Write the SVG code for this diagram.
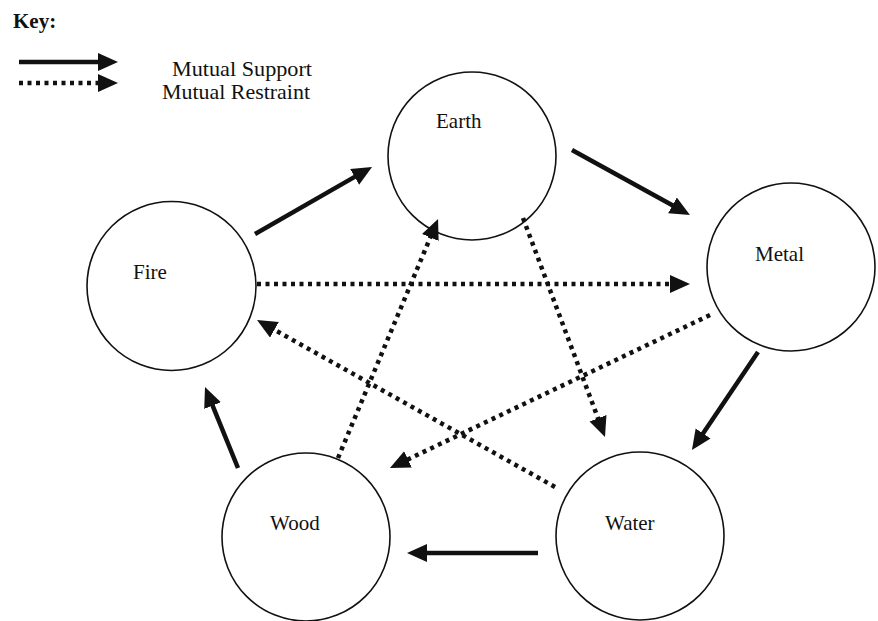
<svg xmlns="http://www.w3.org/2000/svg" width="878" height="621" viewBox="0 0 878 621">
<defs>
<style>
.node{fill:#fff;stroke:#111;stroke-width:1.6}
.lbl{font-family:"Liberation Serif","Times New Roman",serif;font-size:21px;fill:#111}
.sup{stroke:#111;stroke-width:4.5;fill:none;marker-end:url(#ah)}
.res{stroke:#111;stroke-width:4.5;stroke-dasharray:4 4.5;fill:none;marker-end:url(#ah)}
</style>
<marker id="ah" markerUnits="userSpaceOnUse" markerWidth="22" markerHeight="20" refX="2" refY="9" orient="auto" viewBox="0 0 22 20">
<path d="M0,0 L20,9 L0,18 z" fill="#111"/>
</marker>
</defs>
<rect width="878" height="621" fill="#fff"/>
<g id="key">
<text class="lbl" x="13" y="28" font-weight="bold">Key:</text>
<line class="sup" x1="19" y1="62" x2="100" y2="62"/>
<line class="res" x1="19" y1="83" x2="100" y2="83"/>
<text class="lbl" x="172" y="76" font-size="20" textLength="140" lengthAdjust="spacingAndGlyphs">Mutual Support</text>
<text class="lbl" x="162" y="99" font-size="20" textLength="148" lengthAdjust="spacingAndGlyphs">Mutual Restraint</text>
</g>
<g id="earth"><circle class="node" cx="472" cy="156" r="84"/><text class="lbl" x="436" y="128">Earth</text></g>
<g id="fire"><circle class="node" cx="171.5" cy="286" r="84.5"/><text class="lbl" x="133" y="279">Fire</text></g>
<g id="metal"><circle class="node" cx="791" cy="267" r="84"/><text class="lbl" x="755" y="261">Metal</text></g>
<g id="wood"><circle class="node" cx="306" cy="537" r="84"/><text class="lbl" x="270" y="530">Wood</text></g>
<g id="water"><circle class="node" cx="640" cy="536" r="84"/><text class="lbl" x="605" y="530">Water</text></g>
<g id="connectors">
<line class="sup" x1="255" y1="234" x2="356.4" y2="175.9"/>
<line class="sup" x1="572" y1="150" x2="674.2" y2="206.3"/>
<line class="sup" x1="758" y1="352" x2="702" y2="435.1"/>
<line class="sup" x1="538" y1="553" x2="425" y2="553"/>
<line class="sup" x1="238" y1="468" x2="211.8" y2="403.7"/>
<line class="res" x1="257" y1="284" x2="672" y2="284"/>
<line class="res" x1="338" y1="458" x2="431.1" y2="235.6"/>
<line class="res" x1="523" y1="218" x2="598.7" y2="420.1"/>
<line class="res" x1="710" y1="315" x2="406.2" y2="460.2"/>
<line class="res" x1="555" y1="487" x2="272.7" y2="328.8"/>
</g>
</svg>
